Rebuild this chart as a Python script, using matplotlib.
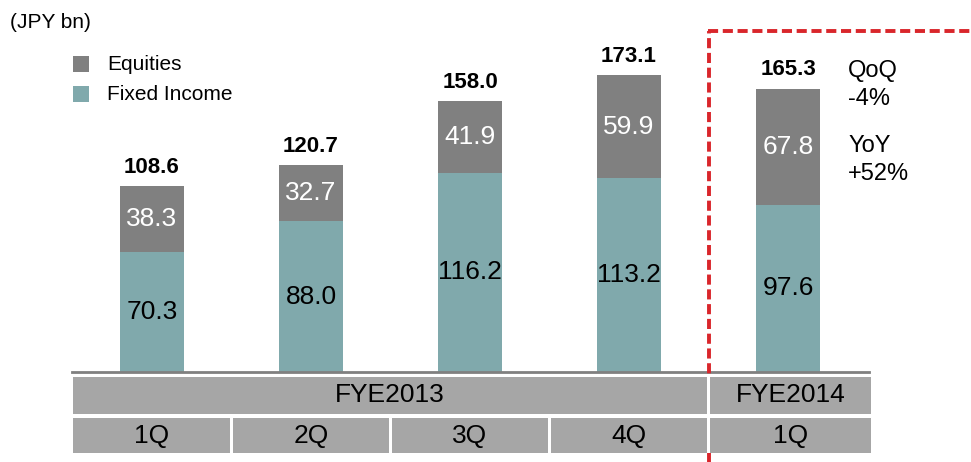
import matplotlib
matplotlib.use("Agg")
import matplotlib.pyplot as plt
from matplotlib.patches import Rectangle
from matplotlib.lines import Line2D
import matplotlib.transforms as mtransforms

plt.rcParams['font.family'] = ['Liberation Sans', 'DejaVu Sans']

quarters = ["1Q", "2Q", "3Q", "4Q", "1Q"]
years = ["FYE2013", "FYE2014"]
year_spans = [(0, 3), (4, 4)]
equities = [38.3, 32.7, 41.9, 59.9, 67.8]
fixed_income = [70.3, 88.0, 116.2, 113.2, 97.6]
totals = [108.6, 120.7, 158.0, 173.1, 165.3]
unit_label = "(JPY bn)"
series_names = ["Equities", "Fixed Income"]
note_lines = [("QoQ", "-4%"), ("YoY", "+52%")]

C_EQ = "#808080"
C_FI = "#80a9ac"
C_TAB = "#a6a6a6"
C_RED = "#d9262b"

W, H = 971, 462
fig = plt.figure(figsize=(W / 100, H / 100), dpi=100)

def fx(px):
    return px / W

def fy(py):  # py measured from top
    return 1 - py / H

ax_left, ax_right = 72, 869
base_py = 372
ax = fig.add_axes([fx(ax_left), fy(base_py), fx(ax_right - ax_left), 1 - fy(base_py)])
x = list(range(len(quarters)))
ax.set_xlim(-0.503, 4.509)
ax.set_ylim(0, base_py / 1.713)
bw = 0.40
ax.bar(x, fixed_income, width=bw, color=C_FI, zorder=2)
ax.bar(x, equities, width=bw, bottom=fixed_income, color=C_EQ, zorder=2)
for i in x:
    ax.text(i, fixed_income[i] / 2, f"{fixed_income[i]:.1f}", ha="center", va="center",
            fontsize=19, color="black")
    ax.text(i, fixed_income[i] + equities[i] / 2, f"{equities[i]:.1f}", ha="center",
            va="center", fontsize=19, color="white")
    ax.annotate(f"{totals[i]:.1f}", (i, fixed_income[i] + equities[i]), xytext=(0, 9.5),
                textcoords="offset points", ha="center", va="baseline", fontsize=16,
                fontweight="bold")
for s in ["top", "right", "left"]:
    ax.spines[s].set_visible(False)
ax.spines["bottom"].set_color("#808080")
ax.spines["bottom"].set_linewidth(2)
ax.set_xticks([])
ax.set_yticks([])
ax.patch.set_alpha(0)

# table below axis
tr = mtransforms.blended_transform_factory(ax.transData, fig.transFigure)
gap = 3.5 / 159
extra = 5 / 159
n = len(quarters)
row1 = (fy(414), fy(377))
row2 = (fy(453), fy(418))

def edges(a, b):
    x0 = a - 0.5 + (gap / 2 if a > 0 else 0.003)
    x1 = b + 0.5 - gap / 2 + (extra if b == n - 1 else 0)
    return x0, x1

# white backing for the table (hides the dashed line behind it)
fig.add_artist(Rectangle((-0.5, row2[0]), n + extra, row1[1] - row2[0], transform=tr,
                         facecolor="white", edgecolor="none", zorder=0.8))
for i, q in enumerate(quarters):
    x0, x1 = edges(i, i)
    fig.add_artist(Rectangle((x0, row2[0]), x1 - x0, row2[1] - row2[0], transform=tr,
                             facecolor=C_TAB, edgecolor="none", zorder=1))
    fig.text((x0 + x1) / 2, (row2[0] + row2[1]) / 2, q, transform=tr, ha="center",
             va="center", fontsize=19, zorder=3)
for (a, b), yr in zip(year_spans, years):
    x0, x1 = edges(a, b)
    fig.add_artist(Rectangle((x0, row1[0]), x1 - x0, row1[1] - row1[0], transform=tr,
                             facecolor=C_TAB, edgecolor="none", zorder=1))
    fig.text((x0 + x1) / 2, (row1[0] + row1[1]) / 2, yr,
             transform=tr, ha="center", va="center", fontsize=19, zorder=3)

# red dashed box
xd = 3.5
dash = (0, (2.6, 1.2))
fig.add_artist(Line2D([xd, xd], [0, fy(31)], transform=tr, color=C_RED, lw=2.8,
                      linestyle=dash, zorder=0.5))
fig.add_artist(Line2D([fx(708), 1.0], [fy(31), fy(31)], transform=fig.transFigure,
                      color=C_RED, lw=2.8, linestyle=dash, zorder=0.5))

# unit label and legend
fig.text(fx(10), fy(22), unit_label, ha="left", va="center", fontsize=15)
for k, (name, col) in enumerate(zip(series_names, [C_EQ, C_FI])):
    yc = 64 + 30 * k
    fig.add_artist(Rectangle((fx(73), fy(yc + 8)), fx(16), 16 / H,
                             transform=fig.transFigure, facecolor=col, edgecolor="none"))
    fig.text(fx(107), fy(yc), name, ha="left", va="center", fontsize=15)

# QoQ / YoY notes
ys = [(71, 99), (146, 174)]
for (l1, l2), (y1, y2) in zip(note_lines, ys):
    fig.text(fx(848), fy(y1), l1, ha="left", va="center", fontsize=17)
    fig.text(fx(848), fy(y2), l2, ha="left", va="center", fontsize=17)

fig.savefig("out.png", dpi=100)
